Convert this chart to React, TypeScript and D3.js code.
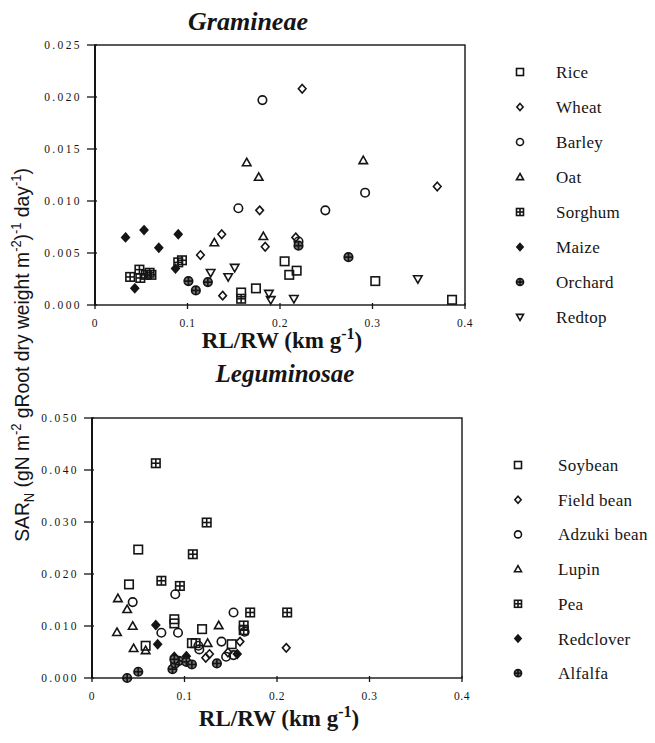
import React from 'react';
import { scaleLinear } from 'd3';

// [RL/RW (km/g), SAR_N] pairs
const rice: [number, number][] = [[0.158, 0.0012], [0.174, 0.0016], [0.205, 0.0042], [0.218, 0.0033], [0.210, 0.0029], [0.303, 0.0023], [0.386, 0.0005]];
const wheat: [number, number][] = [[0.114, 0.0048], [0.137, 0.0068], [0.138, 0.0009], [0.178, 0.0091], [0.184, 0.0056], [0.217, 0.0065], [0.224, 0.0208], [0.370, 0.0114]];
const barley: [number, number][] = [[0.181, 0.0197], [0.155, 0.0093], [0.249, 0.0091], [0.292, 0.0108], [0.220, 0.0061]];
const oat: [number, number][] = [[0.129, 0.0060], [0.164, 0.0137], [0.177, 0.0123], [0.182, 0.0066], [0.290, 0.0139]];
const sorghum: [number, number][] = [[0.038, 0.0027], [0.048, 0.0034], [0.049, 0.0026], [0.055, 0.0029], [0.059, 0.0031], [0.061, 0.0029], [0.090, 0.0041], [0.094, 0.0043], [0.158, 0.0006]];
const maize: [number, number][] = [[0.033, 0.0065], [0.053, 0.0072], [0.069, 0.0055], [0.090, 0.0068], [0.087, 0.0035], [0.043, 0.0016]];
const orchard: [number, number][] = [[0.101, 0.0023], [0.109, 0.0014], [0.122, 0.0022], [0.220, 0.0057], [0.274, 0.0046]];
const redtop: [number, number][] = [[0.125, 0.0031], [0.144, 0.0027], [0.151, 0.0036], [0.188, 0.0011], [0.190, 0.0005], [0.215, 0.0006], [0.349, 0.0025]];

const soybean: [number, number][] = [[0.050, 0.0247], [0.040, 0.0180], [0.089, 0.0113], [0.089, 0.0105], [0.119, 0.0094], [0.058, 0.0062], [0.108, 0.0067], [0.112, 0.0067], [0.151, 0.0065]];
const fieldBean: [number, number][] = [[0.123, 0.0039], [0.127, 0.0046], [0.160, 0.0070], [0.147, 0.0049], [0.210, 0.0058]];
const adzukiBean: [number, number][] = [[0.090, 0.0161], [0.044, 0.0146], [0.153, 0.0126], [0.075, 0.0087], [0.093, 0.0087], [0.115, 0.0062], [0.116, 0.0055], [0.140, 0.0070], [0.145, 0.0041], [0.153, 0.0044], [0.165, 0.0089]];
const lupin: [number, number][] = [[0.028, 0.0153], [0.038, 0.0132], [0.027, 0.0088], [0.044, 0.0100], [0.045, 0.0057], [0.058, 0.0053], [0.125, 0.0067], [0.137, 0.0101]];
const pea: [number, number][] = [[0.069, 0.0413], [0.124, 0.0299], [0.109, 0.0238], [0.075, 0.0187], [0.095, 0.0177], [0.171, 0.0126], [0.211, 0.0126], [0.164, 0.0101], [0.164, 0.0092]];
const redclover: [number, number][] = [[0.069, 0.0102], [0.071, 0.0065], [0.089, 0.0041], [0.102, 0.0042], [0.157, 0.0046]];
const alfalfa: [number, number][] = [[0.038, 0.0000], [0.050, 0.0012], [0.087, 0.0017], [0.090, 0.0028], [0.094, 0.0033], [0.102, 0.0031], [0.108, 0.0026], [0.135, 0.0028], [0.089, 0.0036]];

const gramineaeNames = ['Rice', 'Wheat', 'Barley', 'Oat', 'Sorghum', 'Maize', 'Orchard', 'Redtop'];
const gramineaeShapes = ['square', 'diamond', 'circle', 'triangle', 'squarePlus', 'diamondFilled', 'circlePlus', 'triangleDown'];
const gramineaeData = [rice, wheat, barley, oat, sorghum, maize, orchard, redtop];

const leguminosaeNames = ['Soybean', 'Field bean', 'Adzuki bean', 'Lupin', 'Pea', 'Redclover', 'Alfalfa'];
const leguminosaeShapes = ['square', 'diamond', 'circle', 'triangle', 'squarePlus', 'diamondFilled', 'circlePlus'];
const leguminosaeData = [soybean, fieldBean, adzukiBean, lupin, pea, redclover, alfalfa];

const xTicks = [0, 0.1, 0.2, 0.3, 0.4];
const xTickLabels = ['0', '0.1', '0.2', '0.3', '0.4'];
const gramineaeYTicks = [0, 0.005, 0.01, 0.015, 0.02, 0.025];
const leguminosaeYTicks = [0, 0.01, 0.02, 0.03, 0.04, 0.05];

const ink = '#151515';
const serif = "'Liberation Serif', 'Times New Roman', serif";

const Marker = ({ kind, x, y, s }: { kind: string; x: number; y: number; s: number }) => {
  const h = s / 2;
  const common = { stroke: ink, strokeWidth: 1.6, fill: 'none' };
  switch (kind) {
    case 'square':
      return <rect x={x - h} y={y - h} width={s} height={s} {...common} />;
    case 'squarePlus':
      return (
        <g {...common}>
          <rect x={x - h} y={y - h} width={s} height={s} />
          <line x1={x - h} x2={x + h} y1={y} y2={y} />
          <line x1={x} x2={x} y1={y - h} y2={y + h} />
        </g>
      );
    case 'circle':
      return <circle cx={x} cy={y} r={h} {...common} />;
    case 'circlePlus':
      return (
        <g {...common} strokeWidth={1.7}>
          <circle cx={x} cy={y} r={h} fill="#777" />
          <line x1={x - h} x2={x + h} y1={y} y2={y} />
          <line x1={x} x2={x} y1={y - h} y2={y + h} />
        </g>
      );
    case 'diamond':
    case 'diamondFilled': {
      const w = h * 0.9;
      return (
        <path
          d={`M${x},${y - h}L${x + w},${y}L${x},${y + h}L${x - w},${y}Z`}
          {...common}
          fill={kind === 'diamondFilled' ? ink : 'none'}
        />
      );
    }
    case 'triangle':
      return <path d={`M${x},${y - h}L${x + h},${y + h * 0.75}L${x - h},${y + h * 0.75}Z`} {...common} />;
    case 'triangleDown':
      return <path d={`M${x},${y + h}L${x + h},${y - h * 0.75}L${x - h},${y - h * 0.75}Z`} {...common} />;
    default:
      return null;
  }
};

const XTitle = ({ x, y }: { x: number; y: number }) => (
  <text x={x} y={y} textAnchor="middle" fontFamily={serif} fontWeight="bold" fontSize={23} fill={ink}>
    RL/RW (km g<tspan dy={-9} fontSize={16}>-1</tspan><tspan dy={9}>)</tspan>
  </text>
);

type PanelProps = {
  left: number; right: number; top: number; bottom: number;
  yMax: number; yTicks: number[];
  title: string; titleX: number; titleY: number; titleSize: number;
  xTitleY: number;
  names: string[]; shapes: string[]; series: [number, number][][];
  legendX: number; legendTextX: number; legendY: number; legendStep: number;
};

const Panel = (p: PanelProps) => {
  const xScale = scaleLinear().domain([0, 0.4]).range([p.left, p.right]);
  const yScale = scaleLinear().domain([0, p.yMax]).range([p.bottom, p.top]);
  return (
    <g>
      <text x={p.titleX} y={p.titleY} textAnchor="middle" fontFamily={serif} fontWeight="bold" fontStyle="italic" fontSize={p.titleSize} fill={ink}>
        {p.title}
      </text>
      <rect x={p.left} y={p.top} width={p.right - p.left} height={p.bottom - p.top} fill="none" stroke={ink} strokeWidth={1.4} />
      <line x1={p.left} x2={p.left} y1={p.top} y2={p.bottom} stroke={ink} strokeWidth={2} />
      {p.yTicks.map(t => (
        <g key={t}>
          <line x1={p.left - 8} x2={p.left + 2} y1={yScale(t)} y2={yScale(t)} stroke={ink} strokeWidth={1.3} />
          <text x={p.left - 13} y={yScale(t) + 4} textAnchor="end" fontFamily={serif} fontSize={11.5} letterSpacing={2.4} fill={ink}>
            {t.toFixed(3)}
          </text>
        </g>
      ))}
      {xTicks.map((t, i) => (
        <g key={t}>
          <line x1={xScale(t)} x2={xScale(t)} y1={p.bottom - 2} y2={p.bottom + 4} stroke={ink} strokeWidth={1.3} />
          <text x={xScale(t)} y={p.bottom + 22} textAnchor="middle" fontFamily={serif} fontSize={11.5} letterSpacing={0.6} fill={ink}>
            {xTickLabels[i]}
          </text>
        </g>
      ))}
      <XTitle x={(p.left + p.right) / 2 + 2} y={p.xTitleY} />
      {p.series.map((pts, si) =>
        pts.map((d, j) => <Marker key={`${si}-${j}`} kind={p.shapes[si]} x={xScale(d[0])} y={yScale(d[1])} s={8.5} />)
      )}
      {p.names.map((n, i) => (
        <g key={n}>
          <Marker kind={p.shapes[i]} x={p.legendX} y={p.legendY + i * p.legendStep} s={7} />
          <text x={p.legendTextX} y={p.legendY + i * p.legendStep + 6} fontFamily={serif} fontSize={17} letterSpacing={0.3} fill={ink}>
            {n}
          </text>
        </g>
      ))}
    </g>
  );
};

export default function App() {
  return (
    <svg width={655} height={743} style={{ position: 'absolute', left: 0, top: 0, background: '#fff' }}>
      <rect width={655} height={743} fill="#fff" />
      <Panel
        left={95} right={465} top={45} bottom={305}
        yMax={0.025} yTicks={gramineaeYTicks}
        title="Gramineae" titleX={248} titleY={30} titleSize={26}
        xTitleY={348}
        names={gramineaeNames} shapes={gramineaeShapes} series={gramineaeData}
        legendX={520} legendTextX={556} legendY={72} legendStep={35}
      />
      <Panel
        left={92} right={462} top={418} bottom={678}
        yMax={0.05} yTicks={leguminosaeYTicks}
        title="Leguminosae" titleX={285} titleY={382} titleSize={25}
        xTitleY={726}
        names={leguminosaeNames} shapes={leguminosaeShapes} series={leguminosaeData}
        legendX={518} legendTextX={558} legendY={465} legendStep={34.7}
      />
      <g transform="translate(29, 355) rotate(-90) scale(0.92, 1)">
        <text x={0} y={0} textAnchor="middle" fontFamily="'Liberation Sans', Arial, sans-serif" fontSize={21} fill={ink}>
          SAR<tspan dy={5} fontSize={14}>N</tspan>
          <tspan dy={-5}> (gN m</tspan><tspan dy={-8} fontSize={14}>-2</tspan>
          <tspan dy={8}> gRoot dry weight m</tspan><tspan dy={-8} fontSize={14}>-2</tspan>
          <tspan dy={8}>)</tspan><tspan dy={-8} fontSize={14}>-1</tspan>
          <tspan dy={8}> day</tspan><tspan dy={-8} fontSize={14}>-1</tspan>
          <tspan dy={8}>)</tspan>
        </text>
      </g>
    </svg>
  );
}
